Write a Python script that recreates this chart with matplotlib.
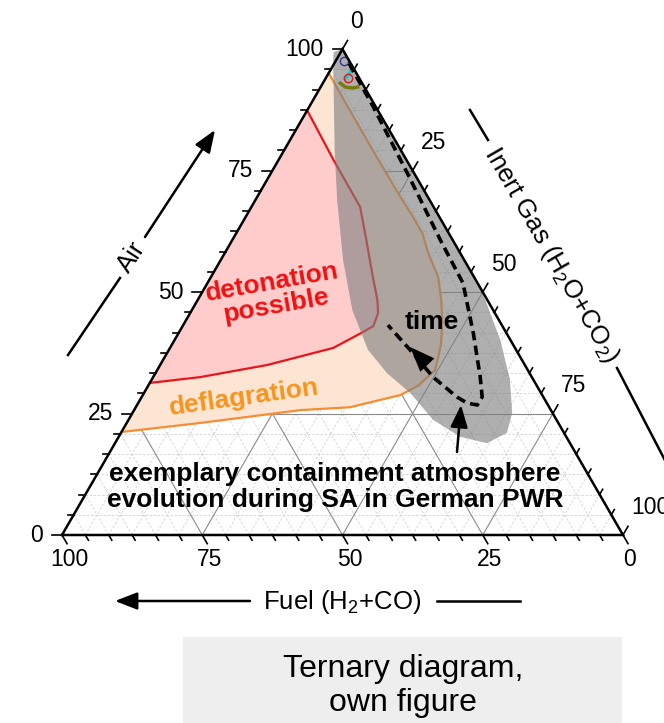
import numpy as np
import matplotlib.pyplot as plt
from matplotlib.patches import Polygon, Rectangle

plt.rcParams['font.family'] = ['Liberation Sans', 'DejaVu Sans']
plt.rcParams['mathtext.fontset'] = 'custom'
plt.rcParams['mathtext.rm'] = 'Liberation Sans'

H = np.sqrt(3) / 2
S = 561.0  # pixels per unit triangle side

# ternary values in percent: fuel (H2+CO), air; inert gas is the rest
defl_fuel = [4.9, 5.0, 5.0, 4.9, 4.7, 4.7, 5.7, 6.4, 8.2, 10.4, 12.9, 16.5, 21.2, 25.3, 35.5, 44.7, 63.9, 78.8]
defl_air = [95.1, 86.8, 78.6, 70.4, 65.4, 62.1, 58.0, 53.1, 48.4, 43.6, 39.1, 33.95, 30.7, 28.8, 26.3, 25.7, 23.05, 21.2]

det_fuel = [12.6, 13.0, 13.1, 15.4, 17.9, 19.6, 20.8, 23.0, 25.4, 32.4, 45.9, 59.1, 68.7]
det_air = [87.4, 77.2, 67.5, 60.7, 53.5, 48.35, 45.7, 43.0, 41.8, 38.5, 35.0, 32.5, 31.3]

sa_fuel = [1.9, 3.3, 11.8, 16.5, 21.6, 25.1, 26.4, 25.4, 23.3, 22.0, 18.9, 14.8, 10.2, 7.2, 4.2, 1.8, 0.0, 0.0]
sa_air = [99.4, 96.7, 79.2, 68.9, 56.6, 46.3, 38.1, 33.3, 29.2, 23.7, 20.2, 18.9, 21.0, 25.1, 31.9, 40.1, 50.4, 100.0]

path_fuel = [0.3, 0.45, 1.2, 2.2, 2.6, 5.9, 9.2, 10.9, 12.6, 14.2, 15.4, 17.6, 18.9, 20.3]
path_air = [97.0, 88.07, 74.5, 60.7, 51.85, 41.56, 32.5, 28.4, 26.75, 27.16, 28.4, 32.5, 38.1, 43.2]

# small measured traces near the air corner
blue_fuel, blue_air = [0.9], [97.5]
redc_fuel, redc_air = [2.0], [94.0]
cyan_fuel = [2.5, 0.9, 0.2]
cyan_air = [94.0, 95.3, 96.5]
olive_fuel = [3.9, 3.4, 2.2, 1.2]
olive_air = [93.0, 92.2, 92.0, 92.2]

major = [0, 25, 50, 75, 100]
minor = [25 / 6 * k for k in range(25) if k % 6]


def tern(fuel, air):
    fuel = np.asarray(fuel, float) / 100
    air = np.asarray(air, float) / 100
    inert = 1 - fuel - air
    return 0.5 * air + inert, air * H


def P(px, py):
    # layout helper: pixel position -> axes data
    return ((px - 62) / S, (535 - py) / S)


fig = plt.figure(figsize=(6.64, 7.23), dpi=100)
ax = fig.add_axes([0, 0, 1, 1])
ax.set_xlim(-62 / S, (664 - 62) / S)
ax.set_ylim(-(723 - 535) / S, 535 / S)
ax.axis('off')


def gridline(v, **kw):
    for f0, a0, f1, a1 in [(100 - v, v, 0, v), (v, 0, v, 100 - v), (100 - v, 0, 0, 100 - v)]:
        x, y = tern([f0, f1], [a0, a1])
        ax.plot(x, y, **kw)


for v in minor:
    gridline(v, color='#d2d2d2', lw=0.6, ls=(0, (3, 2)), zorder=1)
for v in [25, 50, 75]:
    gridline(v, color='#8a8a8a', lw=0.8, zorder=1.5)

# flammability regions
x, y = tern(defl_fuel, defl_air)
ax.add_patch(Polygon(np.column_stack([x, y]), closed=True, fc='#fde5d3', ec='none', zorder=2))
ax.plot(x, y, color='#f58d33', lw=1.6, zorder=3)
x, y = tern(det_fuel, det_air)
ax.add_patch(Polygon(np.column_stack([x, y]), closed=True, fc='#ffcccc', ec='none', zorder=2.5))
ax.plot(x, y, color='#e8151b', lw=1.6, zorder=3)

# containment atmosphere band
x, y = tern(sa_fuel, sa_air)
ax.add_patch(Polygon(np.column_stack([x, y]), closed=True, fc='#7f7f7f', ec='none', alpha=0.62, zorder=4))

x, y = tern(cyan_fuel, cyan_air)
ax.plot(x, y, color='#22c4c4', lw=2.5, zorder=5)
x, y = tern(olive_fuel, olive_air)
ax.plot(x, y, color='#7a7a10', lw=2.5, zorder=5)
x, y = tern(blue_fuel, blue_air)
ax.plot(x, y, 'o', mfc='none', mec='#3030a0', ms=6, mew=1, zorder=5)
x, y = tern(redc_fuel, redc_air)
ax.plot(x, y, 'o', mfc='none', mec='#d02020', ms=6, mew=1, zorder=5)

# evolution path
x, y = tern(path_fuel, path_air)
ax.plot(x, y, color='k', lw=2.6, ls=(0, (2.6, 1.5)), zorder=6)
ax.annotate('', xy=tern(18.6, 38.7), xytext=tern(17.4, 35.0),
            arrowprops=dict(arrowstyle='-|>,head_length=0.9,head_width=0.35',
                            mutation_scale=20, color='k', lw=0, shrinkA=0, shrinkB=0), zorder=6)

# triangle frame and ticks
x, y = tern([100, 0, 0, 100], [0, 0, 100, 0])
ax.plot(x, y, color='k', lw=1.8, zorder=7, solid_joinstyle='miter')
for v in major + minor:
    L = (10 if v in major else 6) / S
    px, py = tern(100 - v, v)
    ax.plot([px, px - L], [py, py], color='k', lw=1.2, zorder=7)
    px, py = tern(0, 100 - v)
    ax.plot([px, px + 0.5 * L], [py, py + H * L], color='k', lw=1.2, zorder=7)
    px, py = tern(v, 0)
    ax.plot([px, px + 0.5 * L], [py, py - H * L], color='k', lw=1.2, zorder=7)

for v in major:
    px, py = tern(100 - v, v)
    ax.text(px - 19 / S, py, str(v), ha='right', va='center', fontsize=16.5)
    px, py = tern(0, 100 - v)
    ax.text(px + 8 / S, py + 28 / S, str(v), ha='left', va='center', fontsize=16.5)
    px, py = tern(v, 0)
    ax.text(px + 7 / S, py - 25 / S, str(v), ha='center', va='center', fontsize=16.5)

# axis titles
arrow_kw = dict(arrowstyle='-|>,head_length=0.9,head_width=0.35', mutation_scale=15,
                color='k', lw=1.8, shrinkA=0, shrinkB=0)
ax.plot(*zip(P(68, 355), P(120, 278)), color='k', lw=1.8)
ax.annotate('', xy=P(215, 130), xytext=P(145, 237), arrowprops=arrow_kw)
ax.text(*P(132, 257), 'Air', rotation=57, ha='center', va='center', fontsize=18.5)

ax.plot(*zip(P(470, 110), P(488, 140)), color='k', lw=1.8)
ax.plot(*zip(P(617, 368), P(670, 470)), color='k', lw=1.8, clip_on=False)
ax.text(*P(551, 255), 'Inert Gas (H$_\\mathregular{2}$O+CO$_\\mathregular{2}$)', rotation=-60,
        ha='center', va='center', fontsize=18.5, rotation_mode='anchor')

ax.annotate('', xy=P(115, 601), xytext=P(250, 601), arrowprops=arrow_kw)
ax.plot(*zip(P(437, 601), P(520, 601)), color='k', lw=1.8)
ax.text(*P(342, 602), 'Fuel (H$_\\mathregular{2}$+CO)', ha='center', va='center', fontsize=18.5)

# labels in the diagram
ax.text(*P(274, 294), 'detonation\npossible', color='#ee1111', fontsize=19, fontweight='bold',
        rotation=10, ha='center', va='center', linespacing=1.0, zorder=8)
ax.text(*P(244, 398), 'deflagration', color='#f7941d', fontsize=19, fontweight='bold',
        rotation=8, ha='center', va='center', zorder=8)
ax.text(*P(432, 322), 'time', fontsize=19, fontweight='bold', ha='center', va='center', zorder=8)
ax.text(*P(335, 487), 'exemplary containment atmosphere\nevolution during SA in German PWR',
        fontsize=19, fontweight='bold', ha='center', va='center', linespacing=1.1, zorder=8)
ax.annotate('', xy=P(461, 405), xytext=P(457, 452), arrowprops=arrow_kw, zorder=8)

# caption box
fig.patches.append(Rectangle((183 / 664, 0), (622 - 183) / 664, (723 - 637) / 723,
                             transform=fig.transFigure, fc='#eeeeee', ec='none', zorder=0))
fig.text(403 / 664, 1 - 686 / 723, 'Ternary diagram,\nown figure', ha='center', va='center',
         fontsize=23, linespacing=1.15)

fig.savefig('out.png', dpi=100)
